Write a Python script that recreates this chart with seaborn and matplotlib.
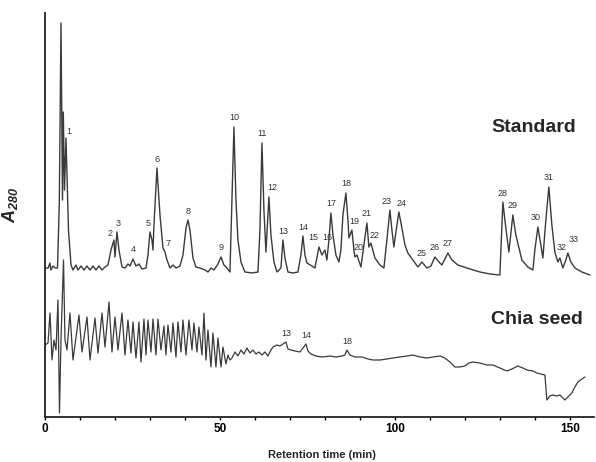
import numpy as np
import pandas as pd
import matplotlib
matplotlib.use("Agg")
import matplotlib.pyplot as plt
import seaborn as sns

# Standard trace: retention time (min) / absorbance (arbitrary units)
std_time = [0.0, 0.9, 1.4, 1.7, 2.3, 2.9, 3.57, 4.09, 4.57, 5.0, 5.23, 5.57, 6.0, 6.71, 7.43,
            8.0, 8.86, 9.43, 10.29, 11.14, 12.0, 12.86, 13.71, 14.57, 15.43, 16.29, 17.14, 18.0,
            18.86, 19.71, 20.0, 20.57, 21.14, 22.0, 22.86, 23.71, 24.29, 25.14, 26.0, 26.86, 27.71,
            28.86, 29.43, 30.0, 30.57, 30.86, 31.14, 32.0, 32.86, 33.71, 34.29, 34.86, 35.71, 36.57,
            37.43, 38.57, 39.43, 40.29, 40.86, 41.43, 42.29, 43.14, 44.29, 45.71, 46.57, 47.43, 48.29,
            49.43, 50.29, 51.14, 52.0, 52.86, 53.43, 54.0, 54.57, 55.14, 56.0, 57.14, 59.14, 60.86,
            61.43, 62.0, 62.57, 63.14, 64.0, 64.57, 65.43, 66.29, 67.43, 68.0, 68.57, 69.43, 70.86,
            72.29, 73.14, 73.71, 74.29, 74.86, 76.29, 77.14, 78.29, 79.14, 80.0, 80.57, 81.14, 81.71,
            82.29, 83.14, 84.0, 84.57, 85.14, 86.0, 86.57, 86.86, 87.71, 88.29, 88.57, 89.14, 90.29,
            91.14, 92.0, 92.57, 93.14, 94.29, 95.71, 96.86, 97.71, 98.57, 99.14, 99.71, 100.29, 101.14,
            102.0, 102.86, 103.71, 105.14, 106.57, 107.71, 109.14, 110.29, 111.43, 112.86, 113.43,
            114.29, 115.14, 116.29, 118.0, 120.57, 124.29, 127.14, 130.0, 130.29, 130.86, 131.43,
            132.57, 133.71, 134.57, 136.29, 138.0, 139.43, 140.0, 140.86, 141.71, 142.29, 143.14,
            144.0, 144.86, 145.71, 146.57, 147.14, 148.0, 148.86, 149.43, 150.29, 151.43, 153.43, 155.71]
std_abs = [149, 149, 154, 147, 151, 149, 149, 214, 394, 217, 305, 227, 279, 187, 152,
           147, 152, 147, 151, 147, 151, 147, 151, 147, 151, 147, 150, 152,
           167, 177, 160, 185, 167, 150, 149, 153, 151, 158, 151, 153, 148,
           149, 162, 185, 177, 167, 192, 249, 202, 169, 165, 157, 149, 152,
           149, 151, 162, 189, 197, 187, 159, 150, 149, 147, 145, 149, 147,
           153, 160, 152, 149, 145, 217, 290, 217, 177, 155, 145, 144, 145,
           187, 274, 207, 165, 220, 182, 155, 145, 149, 177, 159, 145, 144,
           145, 162, 181, 162, 154, 151, 149, 170, 162, 167, 157, 177, 204,
           182, 162, 155, 167, 202, 224, 197, 179, 187, 167, 160, 162, 150,
           172, 194, 170, 174, 159, 152, 149, 177, 207, 187, 170, 185, 205,
           189, 172, 164, 157, 150, 155, 149, 151, 160, 154, 152,
           158, 164, 157, 152, 149, 145, 143, 142, 167, 215, 197,
           165, 202, 182, 157, 150, 147, 167, 190, 172, 159, 197,
           230, 192, 165, 155, 159, 149, 157, 164, 155, 149, 145, 142]

# Numbered peaks of the standard
std_peak_id = list(range(1, 34))
std_peak_time = [6.0, 19.71, 20.57, 25.14, 30.0, 32.0, 34.29, 40.86, 50.29, 54.0, 62.0, 64.0,
                 68.0, 73.71, 78.29, 80.0, 81.71, 86.0, 87.71, 89.14, 92.0, 93.14, 98.57, 101.14,
                 107.71, 111.43, 115.14, 130.86, 133.71, 140.86, 144.0, 147.14, 149.43]
std_peak_abs = [279, 177, 185, 158, 185, 249, 165, 197, 160, 290, 274, 220,
                177, 181, 170, 167, 204, 224, 187, 162, 194, 174, 207, 205,
                155, 160, 164, 215, 202, 190, 230, 159, 164]

# Chia seed trace
chia_time = [0.0, 0.86, 1.43, 2.0, 2.57, 3.14, 3.71, 4.14, 4.57, 5.29, 5.71, 6.29,
             7.14, 8.0, 9.71, 10.57, 12.0, 12.86, 14.29, 15.14, 16.29, 17.14, 18.29, 19.14,
             20.0, 20.86, 22.0, 22.86, 23.71, 24.57, 25.14, 26.0, 26.86, 27.43, 28.29, 28.86,
             29.43, 30.29, 30.86, 31.71, 32.29, 33.14, 34.0, 34.57, 35.14, 36.0, 36.57, 37.43,
             38.0, 38.86, 39.43, 40.29, 41.14, 42.0, 42.57, 43.43, 44.0, 44.86, 45.43, 46.0,
             46.57, 47.43, 48.0, 48.86, 49.43, 50.29, 50.86, 51.71, 52.29, 52.86, 53.43, 54.29,
             55.14, 56.0, 56.86, 57.71, 58.57, 59.43, 60.29, 61.14, 62.0, 62.86, 63.71, 64.57,
             65.14, 66.29, 67.14, 68.0, 68.86, 69.43, 70.29, 71.43, 72.86, 73.71, 74.57, 75.14,
             76.0, 77.43, 79.14, 81.43, 83.14, 84.86, 85.71, 86.29, 87.14, 88.57, 90.57, 92.29,
             93.71, 95.71, 97.71, 99.43, 101.43, 103.43, 105.14, 107.14, 109.14, 110.86, 112.86,
             114.29, 115.71, 117.14, 118.57, 120.0, 121.14, 122.29, 124.29, 126.29, 128.0, 130.0,
             132.0, 133.43, 135.14, 136.57, 137.71, 139.43, 140.57, 142.86, 143.43, 144.29, 145.14,
             146.29, 147.14, 148.0, 148.57, 149.43, 150.57, 151.43, 152.29, 153.43, 154.29]
chia_abs = [72, 74, 104, 57, 77, 67, 117, 4, 77, 157, 77, 67,
            104, 57, 102, 65, 100, 57, 99, 64, 104, 70, 115, 65,
            100, 67, 104, 62, 97, 64, 95, 59, 95, 55, 98, 62,
            97, 65, 98, 62, 98, 67, 91, 62, 92, 65, 94, 60,
            95, 65, 97, 62, 97, 67, 94, 65, 90, 62, 104, 57,
            87, 50, 84, 50, 79, 50, 70, 53, 62, 57, 59, 65,
            61, 67, 63, 69, 64, 67, 63, 65, 62, 65, 61, 67,
            70, 72, 71, 73, 75, 68, 67, 66, 65, 69, 73, 66,
            63, 61, 60, 61, 60, 61, 62, 67, 62, 60, 60, 58,
            57, 57, 58, 59, 60, 61, 62, 60, 59, 60, 61,
            59, 55, 50, 50, 51, 54, 55, 54, 52, 52, 49,
            46, 48, 51, 49, 47, 46, 44, 42, 17, 21, 22,
            21, 22, 19, 17, 20, 24, 30, 35, 38, 40]

chia_peak_id = [13, 14, 18]
chia_peak_time = [68.86, 74.57, 86.29]
chia_peak_abs = [75, 73, 67]

# label nudges (pixels) for crowded peak numbers
nudge = {1: (3, -7), 2: (-4, -7), 3: (1, -8), 5: (-2, -9), 7: (3, -9), 12: (3, -9),
         15: (-6, -9), 16: (2, -13), 19: (2, -8), 20: (2, -8), 22: (4, -8),
         23: (-3, -9), 24: (3, -9), 30: (-2, -9), 32: (2, -11), 33: (6, -13)}

sns.set_theme(style="ticks")
plt.rcParams["font.family"] = ["Liberation Sans", "DejaVu Sans"]
plt.rcParams["mathtext.fontset"] = "custom"
plt.rcParams["mathtext.it"] = "Liberation Sans:italic:bold"
plt.rcParams["mathtext.rm"] = "Liberation Sans:italic:bold"

fig = plt.figure(figsize=(5.96, 4.62), dpi=100)
ax = fig.add_axes([45 / 596, 1 - 417 / 462, 549 / 596, 404 / 462])

line_col = "#3a3a3a"
std_df = pd.DataFrame({"time": std_time, "abs": std_abs})
chia_df = pd.DataFrame({"time": chia_time, "abs": chia_abs})
sns.lineplot(data=std_df, x="time", y="abs", ax=ax, color=line_col, lw=1.0,
             sort=False, estimator=None)
sns.lineplot(data=chia_df, x="time", y="abs", ax=ax, color=line_col, lw=0.9,
             sort=False, estimator=None)

px2pt = 72 / 100
for pid, t, a in zip(std_peak_id, std_peak_time, std_peak_abs):
    dx, dy = nudge.get(pid, (0, -9))
    ax.annotate(str(pid), (t, a), xytext=(dx * px2pt, -dy * px2pt), textcoords="offset points",
                ha="center", va="center", fontsize=6.5, color="#333333")
for pid, t, a in zip(chia_peak_id, chia_peak_time, chia_peak_abs):
    ax.annotate(str(pid), (t, a), xytext=(0, 9 * px2pt), textcoords="offset points",
                ha="center", va="center", fontsize=6.5, color="#333333")

ax.text(139.7, 289, "Standard", fontsize=14, fontweight="bold", ha="center", va="center")
ax.text(140.6, 97, "Chia seed", fontsize=14, fontweight="bold", ha="center", va="center")

ax.set_xlim(0, 156.9)
ax.set_ylim(0, 404)
ax.set_xticks([0, 50, 100, 150])
ax.set_xticks(np.arange(0, 160, 10), minor=True)
ax.set_yticks([])
ax.tick_params(axis="x", which="both", direction="out", length=2.5, width=1, pad=1.5,
               labelsize=8.5, colors="black")
for lbl in ax.get_xticklabels():
    lbl.set_fontweight("bold")
sns.despine(ax=ax)
for s in ["left", "bottom"]:
    ax.spines[s].set_linewidth(1.3)
    ax.spines[s].set_color("#222222")

ax.set_xlabel("Retention time (min)", fontsize=8, fontweight="bold")
ax.xaxis.set_label_coords(0.505, -0.082)
ax.set_ylabel(r"$A_{280}$", fontsize=13)
ax.yaxis.set_label_coords(-0.046, 0.525)

fig.savefig("out.png", dpi=100)
